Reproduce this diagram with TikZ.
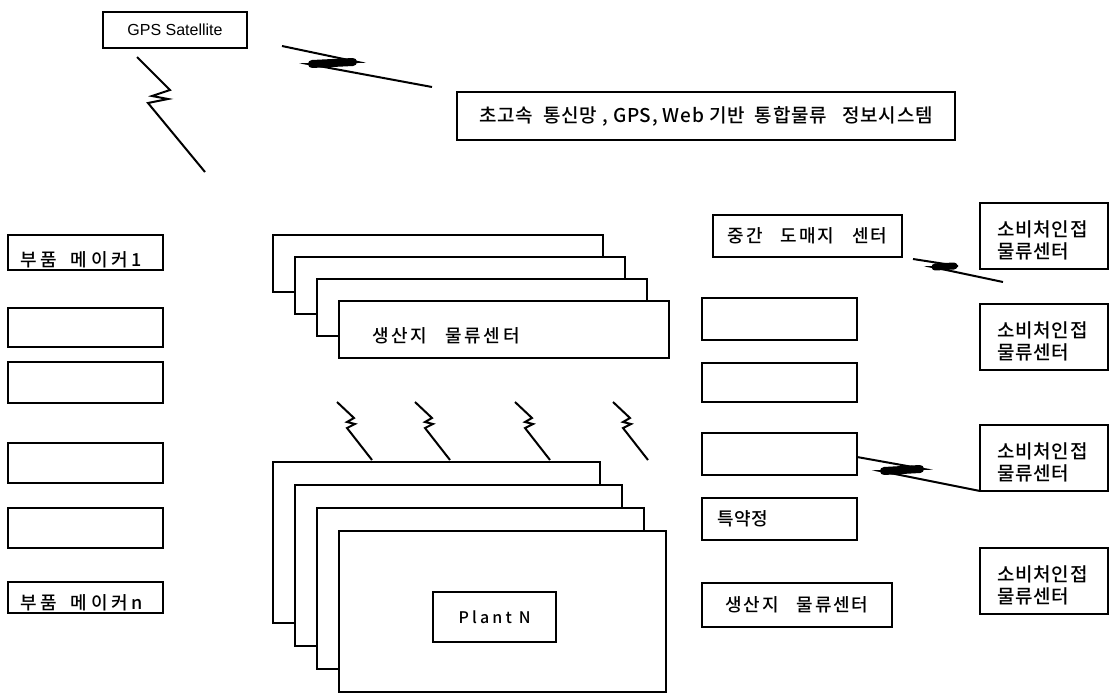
\documentclass[tikz,border=0pt]{standalone}
\usepackage{fontspec}
\setmainfont{Liberation Sans}
\newfontfamily\kr[LetterSpace=4,BoldFont={Noto Sans CJK KR Medium}]{Noto Sans CJK KR}
\usetikzlibrary{positioning}

\begin{document}
\begin{tikzpicture}[x=1pt, y=-1pt,
            box/.style={
                draw,
                line width=2pt,
                fill=white,
                inner sep=0pt,
                outer sep=0pt,
                anchor=north west
            },
            krtext/.style={
                font=\kr\bfseries\fontsize{#1}{#1}\selectfont,
                inner sep=0pt
            },
            wide/.style={
                execute at begin node=\addfontfeature{LetterSpace=#1}
            },
            bolt/.style={
                line width=2pt
            },
            boltbar/.style={
                line width=7pt,
                line cap=round
            }
        ]
            \useasboundingbox (0,0) rectangle (1111,693);

            \node[box, minimum width=144, minimum height=36, font=\fontsize{16}{16}\selectfont] (gps) at (103,12) {GPS Satellite};
            \draw[bolt] ([shift={(34,9)}]gps.south west) -- (170,90) -- (152,96) -- (168,99) -- (148,103) -- (205,172);

            \node[box, minimum width=498, minimum height=48, krtext=19] (title) at (457,92)
                {초고속~~통신망~,~GPS,~Web~기반~~통합물류~~~정보시스템};
            \draw[bolt] (282,46) -- (358,62) -- (308,64) -- (432,87);
            \draw[boltbar, line width=8pt] (353,62) -- (312,64);

            \foreach \i/\y/\h in {1/235/35, 2/308/39, 3/362/41, 4/443/40, 5/508/40, 6/582/31}
                \node[box, minimum width=155, minimum height=\h] (maker\i) at (8,\y) {};
            \node[krtext=18, wide=20, anchor=base west] at ([shift={(12,-4)}]maker1.south west) {부품\hspace{14pt}메이커1};
            \node[krtext=18, wide=20, anchor=base west] at ([shift={(12,-4)}]maker6.south west) {부품\hspace{14pt}메이커n};

            \foreach \i in {0,...,3}
                \node[box, minimum width=330, minimum height=57] (dc\i) at ({273+22*\i},{235+22*\i}) {};
            \node[krtext=18, wide=15, anchor=west] at ([shift={(33,-22)}]dc3.south west) {생산지\quad 물류센터};

            \foreach \x in {337,415,515,613}
                \draw[bolt] (\x,402) -- ++(17,16) -- ++(-7,4) -- ++(8,2) -- ++(-8,4) -- ++(25,32);

            \foreach \i in {0,...,3}
                \node[box, minimum width=327, minimum height=161] (plant\i) at ({273+22*\i},{462+23*\i}) {};
            \node[box, minimum width=123, minimum height=50, krtext=16, wide=20] (plantN) at (433,592) {Plant N};

            \node[box, minimum width=189, minimum height=42, krtext=18, wide=10] (whole) at (713,215) {중간\quad 도매지\quad 센터};
            \foreach \i/\y/\h in {1/298/42, 2/363/39, 3/433/42}
                \node[box, minimum width=155, minimum height=\h] (relay\i) at (702,\y) {};
            \node[box, minimum width=155, minimum height=42] (agent) at (702,498) {};
            \node[krtext=18, anchor=west] at ([xshift=15pt]agent.west) {특약정};
            \node[box, minimum width=190, minimum height=44, krtext=18, wide=10] (origin) at (702,583) {생산지\quad 물류센터};

            \foreach \i/\y in {1/203, 2/304, 3/425, 4/548}
                \node[box, minimum width=128, minimum height=66] (cons\i) at (980,\y) {};
            \foreach \i in {1,...,4}
                \node[krtext=19, anchor=west, align=left] at ([shift={(17,4)}]cons\i.west) {소비처인접\\[3pt]물류센터};

            \draw[bolt] ([shift={(11,2)}]whole.south east) -- (958,266) -- (932,267) -- (1003,282);
            \draw[boltbar] (954,266) -- (935,267);
            \draw[bolt] ([yshift=-3pt]relay3.east) -- (924,469) -- (880,471) -- (cons3.south west);
            \draw[boltbar, line width=8pt] (920,469) -- (884,471);
        \end{tikzpicture}
\end{document}
